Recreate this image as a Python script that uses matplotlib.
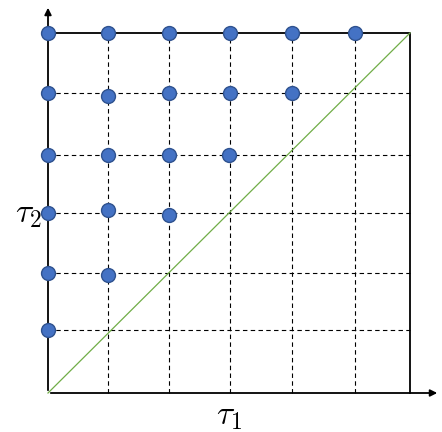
import matplotlib.pyplot as plt

plt.rcParams['mathtext.fontset'] = 'cm'

# grid positions (in units of one step)
grid_x = [1, 2, 3.02, 4.04, 5.09]
grid_y = [1.05, 2, 3, 3.97, 5]
box = 6.0

# staircase points (tau1, tau2)
pts_x = [0, 0, 0, 0, 0, 0,
         1, 2, 3.02, 4.04, 5.09,
         1, 2, 3.02, 4.04,
         1, 2, 3.0,
         1, 2,
         1]
pts_y = [1.05, 2, 3, 3.97, 5, 6,
         6, 6, 6, 6, 6,
         4.95, 5, 5, 5,
         3.97, 3.97, 3.97,
         3.05, 2.97,
         1.97]

fig = plt.figure(figsize=(4.42, 4.32), dpi=100)
ax = fig.add_axes([0, 0, 1, 1])
ux = 362 / box
uy = 360 / box
ax.set_xlim(-48 / ux, (442 - 48) / ux)
ax.set_ylim(-(432 - 393) / uy, 393 / uy)
ax.axis('off')

for gx in grid_x:
    ax.plot([gx, gx], [0, box], 'k--', lw=0.8, dashes=(4, 3))
for gy in grid_y:
    ax.plot([0, box], [gy, gy], 'k--', lw=0.8, dashes=(4, 3))

ax.plot([box, box, 0], [0, box, box], 'k-', lw=1.3)
ax.plot([0, box], [0, box], color='#70AD47', lw=0.9)

ax.annotate('', xy=(392 / ux, 0), xytext=(0, 0),
            arrowprops=dict(arrowstyle='-|>', color='k', lw=1.3, mutation_scale=10))
ax.annotate('', xy=(0, 388 / uy), xytext=(0, 0),
            arrowprops=dict(arrowstyle='-|>', color='k', lw=1.3, mutation_scale=10))

ax.plot(pts_x, pts_y, 'o', ms=10, color='#4472C4', mec='#2F528F', mew=1, clip_on=False, zorder=5)

ax.text(3, -0.1, r'$\tau_1$', fontsize=24, ha='center', va='top')
ax.text(-0.1, 3, r'$\tau_2$', fontsize=24, ha='right', va='center')

fig.savefig('out.png', dpi=100)
